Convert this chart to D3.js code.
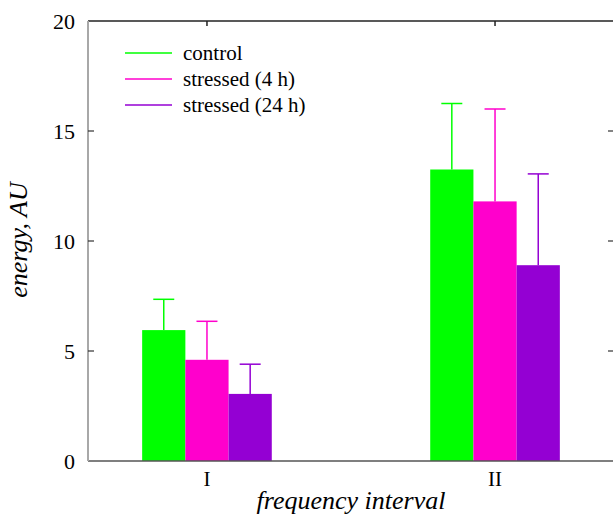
<!DOCTYPE html>
<html>
<head>
<meta charset="utf-8">
<script src="https://cdn.jsdelivr.net/npm/d3@7"></script>
<style>
  body { margin: 0; background: #fff; }
  text { font-family: "Liberation Serif", "Times New Roman", serif; fill: #000; }
</style>
</head>
<body>
<script>
    // chart data
    var categories = ["I", "II"];
    var seriesNames = ["control", "stressed (4 h)", "stressed (24 h)"];
    var meanValues = [[5.95, 13.25], [4.6, 11.8], [3.05, 8.9]];
    var errTops = [[7.35, 16.25], [6.35, 16.0], [4.4, 13.05]];
    var yTicks = [0, 5, 10, 15, 20];
    var colors = ["#00ff00", "#ff00cc", "#9400d3"];

    var width = 613, height = 515;
    var plotL = 88, plotR = 614, plotT = 21, plotB = 461;

    var svg = d3.select("body")
        .append("svg").attr("width", width).attr("height", height)

    var x = d3.scalePoint().domain(categories).range([plotL, plotR]).padding(0.413);
    var y = d3.scaleLinear().domain([0, 20]).range([plotB, plotT]);
    var barW = x.step() * 0.15;

    /* bars and error bars */
    seriesNames.forEach(function(s, i){
        categories.forEach(function(c, j){
            var cx = x(c) + (i - 1) * barW;
            svg.append("rect")
                .attr("x", cx - barW / 2)
                .attr("y", y(meanValues[i][j]))
                .attr("width", barW)
                .attr("height", y(0) - y(meanValues[i][j]))
                .style("fill", colors[i])
            svg.append("line")
                .attr("x1", cx).attr("x2", cx)
                .attr("y1", y(meanValues[i][j])).attr("y2", y(errTops[i][j]))
                .attr("stroke", colors[i]).attr("stroke-width", 1.5)
            svg.append("line")
                .attr("x1", cx - 10.5).attr("x2", cx + 10.5)
                .attr("y1", y(errTops[i][j])).attr("y2", y(errTops[i][j]))
                .attr("stroke", colors[i]).attr("stroke-width", 1.5)
        })
    })

    /* frame */
    svg.append("line").attr("x1", plotL).attr("x2", plotR).attr("y1", plotT).attr("y2", plotT)
        .attr("stroke", "#222").attr("stroke-width", 1.5)
    svg.append("line").attr("x1", plotL).attr("x2", plotR).attr("y1", plotB).attr("y2", plotB)
        .attr("stroke", "#555").attr("stroke-width", 1.5)
    svg.append("line").attr("x1", plotL).attr("x2", plotL).attr("y1", plotT).attr("y2", plotB)
        .attr("stroke", "#a8a8a8").attr("stroke-width", 2)

    /* y ticks, inward on both sides */
    yTicks.forEach(function(t){
        if (t > 0 && t < 20) {
            svg.append("line").attr("x1", plotL).attr("x2", plotL + 6)
                .attr("y1", y(t)).attr("y2", y(t)).attr("stroke", "#333").attr("stroke-width", 1.2)
            svg.append("line").attr("x1", plotR - 6).attr("x2", plotR)
                .attr("y1", y(t)).attr("y2", y(t)).attr("stroke", "#333").attr("stroke-width", 1.2)
        }
        svg.append("text")
            .attr("x", 75).attr("y", y(t) + 7.5)
            .attr("text-anchor", "end")
            .style("font-size", "22px")
            .text(t)
    })

    /* x ticks on top axis and category labels */
    categories.forEach(function(c){
        svg.append("line").attr("x1", x(c)).attr("x2", x(c))
            .attr("y1", plotT).attr("y2", plotT + 5).attr("stroke", "#222").attr("stroke-width", 1.5)
        svg.append("text")
            .attr("x", x(c)).attr("y", 486)
            .attr("text-anchor", "middle")
            .style("font-size", "21px")
            .text(c)
    })

    /* legend */
    var legend = svg.append("g")
    seriesNames.forEach(function(s, i){
        var ly = 53 + i * 26;
        legend.append("line").attr("x1", 125).attr("x2", 172)
            .attr("y1", ly).attr("y2", ly).attr("stroke", colors[i]).attr("stroke-width", 1.5)
        legend.append("text").attr("x", 183).attr("y", ly + 7)
            .style("font-size", "21px").text(s)
    })

    /* axis titles */
    svg.append("text")
        .attr("transform", "translate(27,240) rotate(-90)")
        .attr("text-anchor", "middle")
        .style("font-size", "26px").style("font-style", "italic")
        .text("energy, AU")

    svg.append("text")
        .attr("x", 351).attr("y", 509)
        .attr("text-anchor", "middle")
        .style("font-size", "26px").style("font-style", "italic")
        .text("frequency interval")
</script>
</body>
</html>
